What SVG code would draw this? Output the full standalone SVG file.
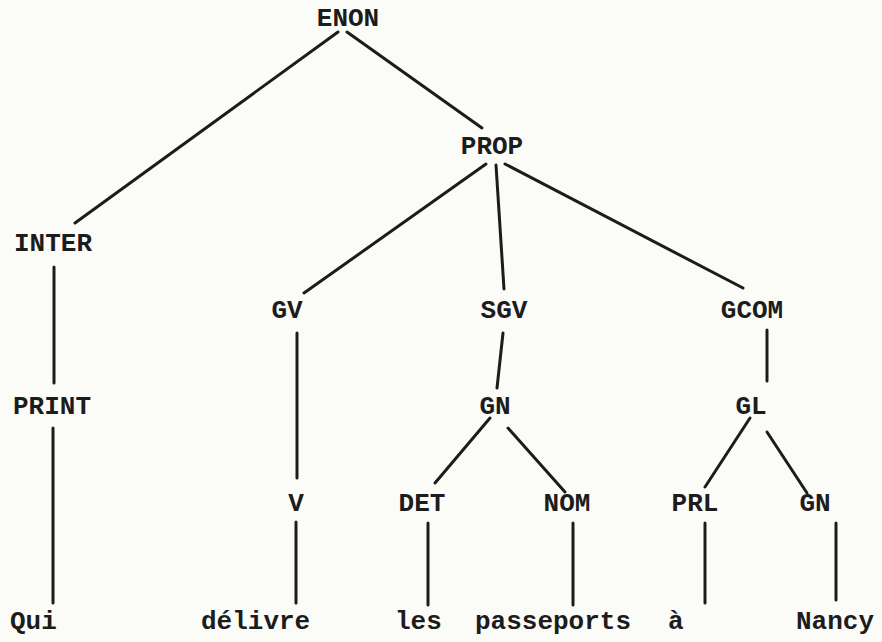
<svg xmlns="http://www.w3.org/2000/svg" width="882" height="642" viewBox="0 0 882 642">
  <style>
    .bg { fill: #fbfbf8; }
    .lbl { font-family: "Liberation Mono", "Courier New", monospace; font-weight: bold; font-size: 26px; fill: #1c1c1c; text-anchor: middle; }
    .word { font-family: "Liberation Mono", "Courier New", monospace; font-weight: bold; font-size: 26px; fill: #1c1c1c; text-anchor: start; }
    .edge { stroke: #1c1c1c; stroke-width: 3; stroke-linecap: round; fill: none; }
  </style>
  <rect class="bg" x="0" y="0" width="882" height="642"/>

  <!-- tree branches -->
  <g id="connectors">
    <line class="edge" x1="338" y1="32" x2="75" y2="223"/>
    <line class="edge" x1="347" y1="32" x2="482" y2="128"/>
    <line class="edge" x1="486" y1="164" x2="304" y2="293"/>
    <line class="edge" x1="496" y1="165" x2="504" y2="289"/>
    <line class="edge" x1="505" y1="164" x2="743" y2="288"/>
    <line class="edge" x1="54" y1="267" x2="54" y2="383"/>
    <line class="edge" x1="297" y1="333" x2="297" y2="478"/>
    <line class="edge" x1="503" y1="333" x2="497" y2="388"/>
    <line class="edge" x1="767" y1="330" x2="767" y2="381"/>
    <line class="edge" x1="53" y1="428" x2="53" y2="603"/>
    <line class="edge" x1="296" y1="522" x2="296" y2="603"/>
    <line class="edge" x1="490" y1="418" x2="435" y2="483"/>
    <line class="edge" x1="508" y1="428" x2="565" y2="492"/>
    <line class="edge" x1="750" y1="418" x2="705" y2="487"/>
    <line class="edge" x1="767" y1="432" x2="807" y2="493"/>
    <line class="edge" x1="428" y1="523" x2="428" y2="605"/>
    <line class="edge" x1="573" y1="523" x2="573" y2="605"/>
    <line class="edge" x1="705" y1="523" x2="705" y2="603"/>
    <line class="edge" x1="836" y1="523" x2="836" y2="600"/>
  </g>

  <!-- category nodes -->
  <g id="n-enon"><text class="lbl" x="348" y="26">ENON</text></g>
  <g id="n-prop"><text class="lbl" x="492" y="154">PROP</text></g>
  <g id="n-inter"><text class="lbl" x="53" y="251">INTER</text></g>
  <g id="n-gv"><text class="lbl" x="287" y="318">GV</text></g>
  <g id="n-sgv"><text class="lbl" x="504" y="318">SGV</text></g>
  <g id="n-gcom"><text class="lbl" x="752" y="318">GCOM</text></g>
  <g id="n-print"><text class="lbl" x="52" y="414">PRINT</text></g>
  <g id="n-gn1"><text class="lbl" x="495" y="414">GN</text></g>
  <g id="n-gl"><text class="lbl" x="751" y="414">GL</text></g>
  <g id="n-v"><text class="lbl" x="296" y="511">V</text></g>
  <g id="n-det"><text class="lbl" x="422" y="511">DET</text></g>
  <g id="n-nom"><text class="lbl" x="567" y="511">NOM</text></g>
  <g id="n-prl"><text class="lbl" x="695" y="511">PRL</text></g>
  <g id="n-gn2"><text class="lbl" x="815" y="511">GN</text></g>

  <!-- terminal words -->
  <g id="w-qui"><text class="word" x="10" y="629">Qui</text></g>
  <g id="w-delivre"><text class="word" x="201" y="629">délivre</text></g>
  <g id="w-les"><text class="word" x="395" y="629">les</text></g>
  <g id="w-passeports"><text class="word" x="475" y="629">passeports</text></g>
  <g id="w-a"><text class="word" x="668" y="629">à</text></g>
  <g id="w-nancy"><text class="word" x="796" y="629">Nancy</text></g>
</svg>
